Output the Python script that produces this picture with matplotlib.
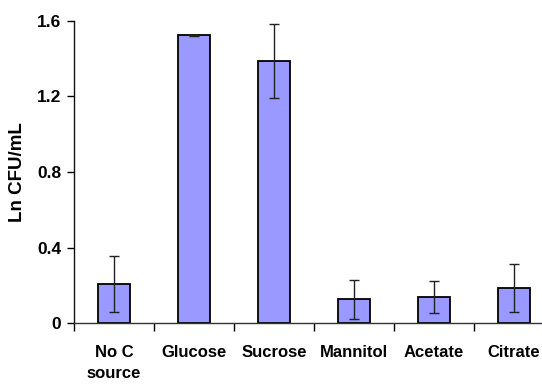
import matplotlib.pyplot as plt
import numpy as np

# datos
categorias = ['No C\nsource', 'Glucose', 'Sucrose', 'Mannitol', 'Acetate', 'Citrate']
valores = [0.207, 1.524, 1.388, 0.125, 0.139, 0.185]
errores = [0.147, 0.004, 0.195, 0.105, 0.085, 0.125]
yticks = [0, 0.4, 0.8, 1.2, 1.6]
ytick_labels = ['0', '0.4', '0.8', '1.2', '1.6']

plt.rcParams['font.family'] = ['Liberation Sans', 'DejaVu Sans']

fig = plt.figure(figsize=(5.42, 3.85), dpi=100)
ax = fig.add_axes([0.1365, 0.161, 0.8856, 0.7845])

x = np.arange(len(categorias))
ax.bar(x, valores, width=0.4, color='#9999FF', edgecolor='black', linewidth=1.3, zorder=2)
ax.errorbar(x, valores, yerr=errores, fmt='none', ecolor='#222222',
            elinewidth=1, capsize=3.3, capthick=1, zorder=3)

ax.set_xlim(-0.5, len(categorias) - 0.5)
ax.set_ylim(0, 1.6)
ax.set_yticks(yticks)
ax.set_yticklabels(ytick_labels, fontsize=12.5, fontweight='bold')
ax.set_xticks(x)
ax.set_xticklabels(categorias, fontsize=12, fontweight='bold', linespacing=1.45,
                   va='top')
ax.tick_params(axis='x', which='major', length=0, pad=16)
ax.set_xticks(np.arange(len(categorias)) - 0.5, minor=True)
ax.tick_params(axis='x', which='minor', length=6, width=1, direction='out')
ax.tick_params(axis='y', length=5, width=1, direction='out', pad=4)

ax.spines['top'].set_visible(False)
ax.spines['right'].set_visible(False)
ax.spines['left'].set_linewidth(1)
ax.spines['bottom'].set_linewidth(1)
ax.spines['bottom'].set_color('#333333')
ax.spines['left'].set_color('#111111')

ax.set_ylabel('Ln CFU/mL', fontsize=13.5, fontweight='bold', labelpad=8)

fig.savefig('out.png', dpi=100)
